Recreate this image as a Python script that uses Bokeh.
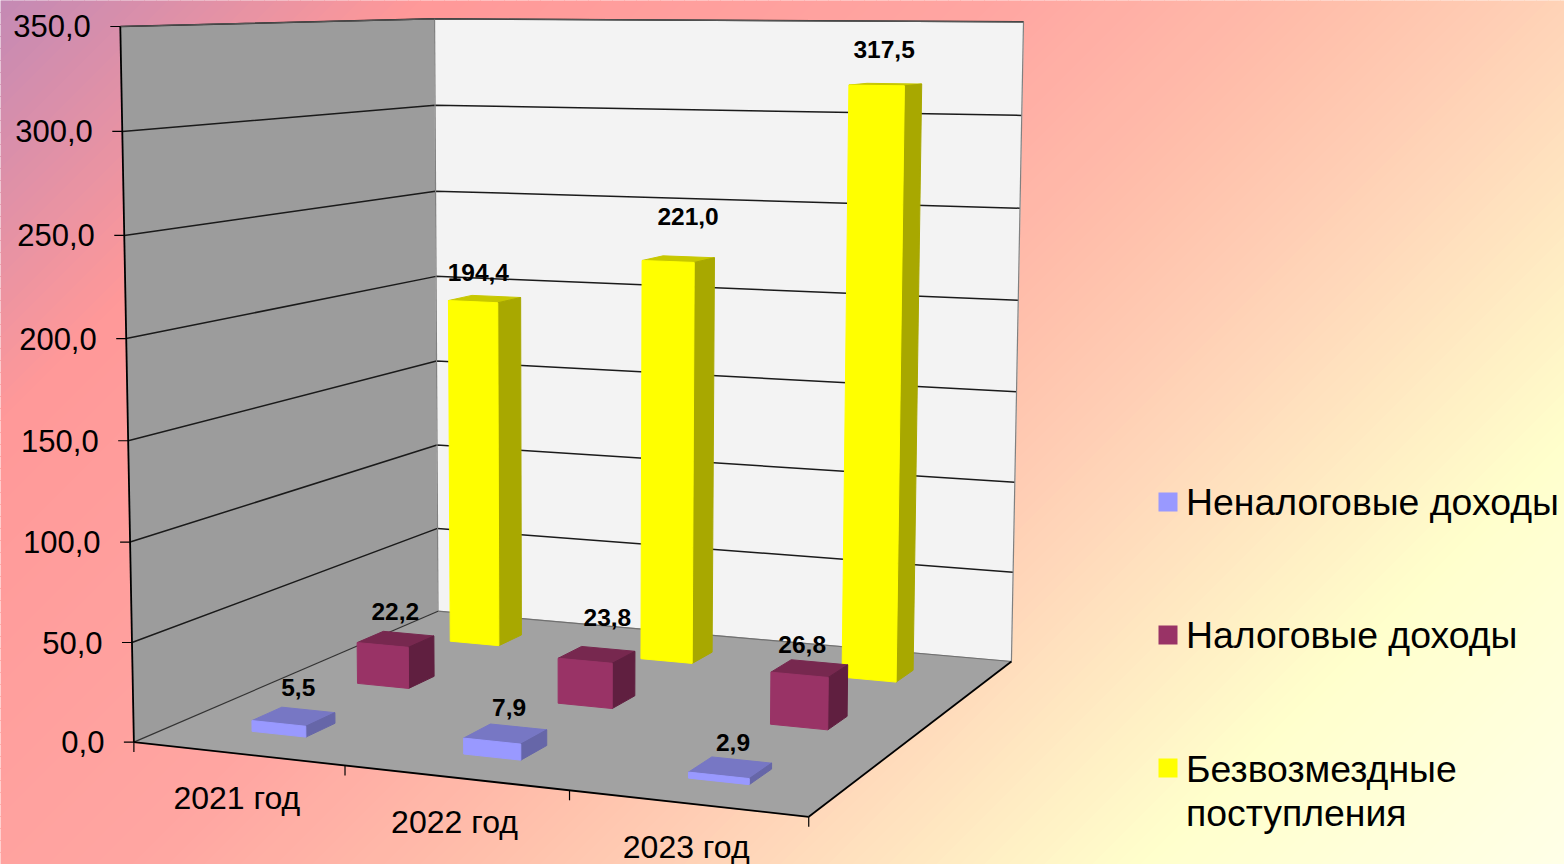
import numpy as np
from bokeh.plotting import figure
from bokeh.core.properties import value
from bokeh.embed import file_html
from bokeh.resources import INLINE

categories = ["2021 год", "2022 год", "2023 год"]
series_names = ["Неналоговые доходы", "Налоговые доходы", "Безвозмездные\nпоступления"]
nontax = [5.5, 7.9, 2.9]
tax = [22.2, 23.8, 26.8]
grants = [194.4, 221.0, 317.5]
series_values = [nontax, tax, grants]
value_ticks = [0, 50, 100, 150, 200, 250, 300, 350]
tick_labels = ["0,0", "50,0", "100,0", "150,0", "200,0", "250,0", "300,0", "350,0"]

front_colors = ["#9999FF", "#993366", "#FFFF00"]
top_colors = ["#7777C4", "#77284F", "#C8C800"]
side_colors = ["#6666A8", "#601F40", "#A8A800"]
LABEL_NUDGE = {(0, 0): (5, 1), (0, 1): (4, 4), (0, 2): (3, 5),
               (1, 0): (0, 2), (1, 1): (11, -7), (1, 2): (-7, 6),
               (2, 0): (-6, 3), (2, 1): (10, -13), (2, 2): (-1, -5)}
BAR_W, BAR_D = 0.26, 0.09
BAR_SHIFT = -0.003
VMAX = 350.0

W, H = 1564, 864

# --- calibrated 3D projection fitted to the frame: (category, depth, value) -> screen pixels
edge_cal = [((0, 0), (120, 133), [26, 131, 235, 338, 440, 541, 642, 741]),
            ((0, 1), (434, 437.5), [18, 105, 191, 276, 360, 445, 528, 611]),
            ((3, 1), (1023, 1011), [21, 115, 208, 300, 391, 482, 571, 660.5])]
cal = []
for (xd, (xt, xb), ys) in edge_cal:
    for v, yy in zip(value_ticks[::-1], ys):
        xx = xt + (xb - xt) * (yy - ys[0]) / (ys[-1] - ys[0])
        cal.append((xd[0], xd[1], v, xx, yy))
for _ in range(3):
    cal += [(3, 0, 0, 808, 816.5), (1, 0, 0, 345, 765), (2, 0, 0, 569, 790)]
_A = []
for (x, d, v, u, w) in cal:
    X = [x, d, v / VMAX, 1.0]
    u, w = u / 1000.0, w / 1000.0
    _A.append(X + [0, 0, 0, 0] + [-u * q for q in X])
    _A.append([0, 0, 0, 0] + X + [-w * q for q in X])
P = np.linalg.svd(np.array(_A))[2][-1].reshape(3, 4)

def proj(x, d, v):
    h = P @ np.array([x, d, v / VMAX, 1.0])
    return 1000.0 * h[0] / h[2], 1000.0 * h[1] / h[2]

def poly(pts):
    q = [proj(*p) for p in pts]
    return [a for a, _ in q], [b for _, b in q]

p = figure(width=W, height=H, x_range=(0, W), y_range=(H, 0),
           toolbar_location=None, output_backend="svg", min_border=0,
           outline_line_color=None, background_fill_color=None, border_fill_color=None)
p.axis.visible = False
p.grid.visible = False

# --- background gradient as diagonal bands
K = 1.0
stops_t = [0, 420, 1000, 1350, 1610, 2000, 2428]
stops_r = [0xC4, 0xFF, 0xFF, 0xFF, 0xFF, 0xFF, 0xFF]
stops_g = [0x8A, 0x99, 0xA6, 0xC0, 0xD7, 0xFF, 0xFF]
stops_b = [0xB5, 0x99, 0xA2, 0xAC, 0xBA, 0xCC, 0xE8]
edges = np.arange(0, 1564 + K * 864 + 12, 12.0)
bxs, bys, bcol = [], [], []
for a, b in zip(edges[:-1], edges[1:]):
    m = (a + b) / 2
    col = "#%02x%02x%02x" % (int(np.interp(m, stops_t, stops_r)), int(np.interp(m, stops_t, stops_g)),
                             int(np.interp(m, stops_t, stops_b)))
    bxs.append([a, b, b - K * 864, a - K * 864])
    bys.append([0, 0, 864, 864])
    bcol.append(col)
p.patches(bxs, bys, fill_color=bcol, line_color=bcol, line_width=1)

# --- walls & floor
NX = len(categories)
def fill(pts, color, line_color=None):
    xs, ys = poly(pts)
    p.patch(xs, ys, fill_color=color, line_color=line_color or color, line_width=1)

fill([(0, 0, 0), (0, 1, 0), (0, 1, VMAX), (0, 0, VMAX)], "#9C9C9C")
fill([(0, 1, 0), (NX, 1, 0), (NX, 1, VMAX), (0, 1, VMAX)], "#F3F3F3")
fill([(0, 0, 0), (NX, 0, 0), (NX, 1, 0), (0, 1, 0)], "#A2A2A2")

# gridlines
for v in value_ticks[1:]:
    xs, ys = poly([(0, 0, v), (0, 1, v), (NX, 1, v)])
    p.line(xs, ys, line_color="#1a1a1a", line_width=1.5)
# wall edges
for seg, col in [([(0, 1, 0), (0, 1, VMAX)], "#808080"),
                 ([(NX, 1, 0), (NX, 1, VMAX)], "#808080"),
                 ([(0, 1, 0), (NX, 1, 0)], "#707070"),
                 ([(0, 0, VMAX), (0, 1, VMAX), (NX, 1, VMAX)], "#555555"),
                 ([(0, 0, 0), (0, 1, 0)], "#333333")]:
    xs, ys = poly(seg)
    p.line(xs, ys, line_color=col, line_width=1.2)

# --- bars, back to front
for s in range(2, -1, -1):
    d0 = (s + 0.5) / 3 - BAR_D / 2
    d1 = d0 + BAR_D
    for c in range(NX - 1, -1, -1):
        v = series_values[s][c]
        x0 = c + 0.5 + BAR_SHIFT - BAR_W / 2
        x1 = x0 + BAR_W
        fill([(x0, d0, v), (x1, d0, v), (x1, d1, v), (x0, d1, v)], top_colors[s])
        fill([(x1, d0, 0), (x1, d1, 0), (x1, d1, v), (x1, d0, v)], side_colors[s])
        fill([(x0, d0, 0), (x1, d0, 0), (x1, d0, v), (x0, d0, v)], front_colors[s])

# --- axes lines
for seg in ([(0, 0, 0), (0, 0, VMAX)], [(0, 0, 0), (NX, 0, 0)], [(NX, 0, 0), (NX, 1, 0)]):
    xs, ys = poly(seg)
    p.line(xs, ys, line_color="#000000", line_width=1.8)
for v in value_ticks:
    x, y = proj(0, 0, v)
    p.line([x - 10, x], [y, y], line_color="#000000", line_width=1.2)
for c in range(NX + 1):
    x, y = proj(c, 0, 0)
    p.line([x, x], [y, y + 10], line_color="#000000", line_width=1.2)

FONT = value("Liberation Sans")
# value-axis labels
tx, ty = zip(*[proj(0, 0, v) for v in value_ticks])
p.text(x=[a - 29.5 for a in tx], y=list(ty), text=tick_labels, text_font=FONT, text_font_size="31px",
       text_align="right", text_baseline="middle", text_color="#000000")
# category labels
cx, cy = zip(*[proj(c + 0.5, 0, 0) for c in range(NX)])
p.text(x=[a - 1 for a in cx], y=[b + 44 for b in cy], text=categories, text_font=FONT, text_font_size="32px",
       text_align="center", text_baseline="middle", text_color="#000000")
# data labels
for s in range(3):
    d = (s + 0.5) / 3
    for c in range(NX):
        v = series_values[s][c]
        x, y = proj(c + 0.5, d, v)
        nx, ny = LABEL_NUDGE[(s, c)]
        p.text(x=[x + nx - 1], y=[y - 30 + ny], text=[f"{v:.1f}".replace(".", ",")], text_font=FONT,
               text_font_size="24.5px", text_font_style="bold", text_align="center",
               text_baseline="middle", text_color="#000000")

# --- legend
legend_tops = [492, 625, 758]
legend_mid = [[501], [634], [768, 812]]
for s, name in enumerate(series_names):
    y0 = legend_tops[s]
    p.quad(left=[1158], right=[1177], top=[y0], bottom=[y0 + 19], fill_color=front_colors[s], line_color=None)
    for txt, b in zip(name.split("\n"), legend_mid[s]):
        p.text(x=[1185.5], y=[b], text=[txt], text_font=FONT, text_font_size="37.4px",
               text_align="left", text_baseline="middle", text_color="#000000")

open("out.html", "w").write(file_html(p, INLINE))
